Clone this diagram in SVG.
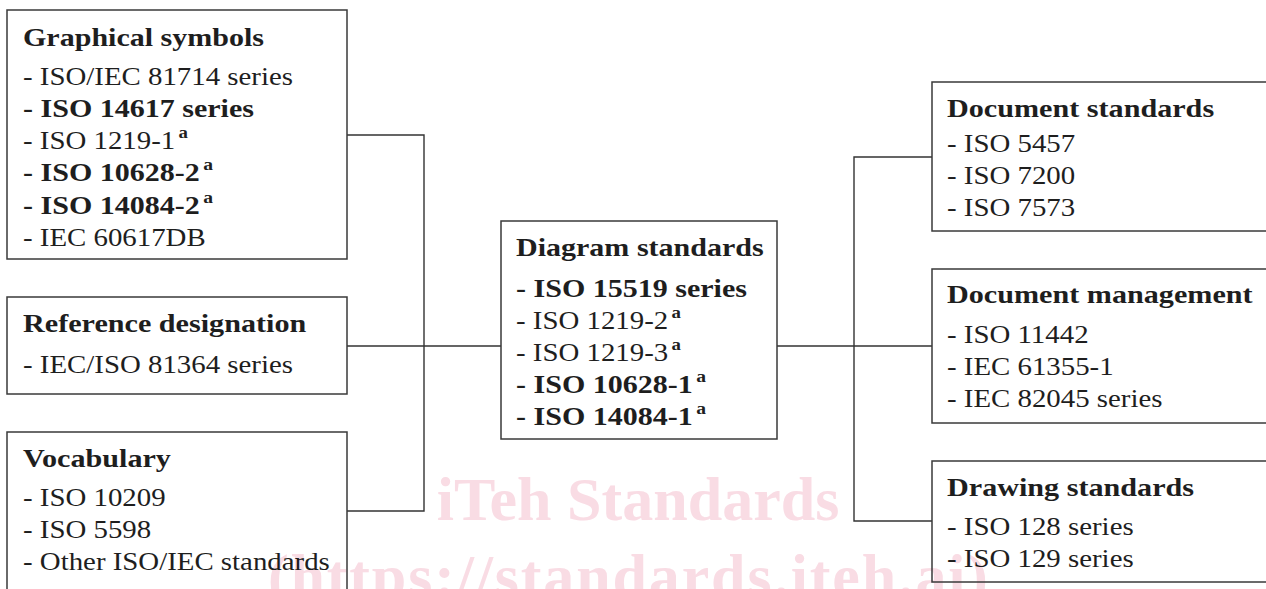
<svg xmlns="http://www.w3.org/2000/svg" width="1266" height="589" viewBox="0 0 1266 589">
<style>
.box{fill:none;stroke:#3a3a3a;stroke-width:1.5}
.wire{fill:none;stroke:#333;stroke-width:1.4}
text{font-family:"Liberation Serif","Times New Roman",serif;font-size:26px;fill:#1e1e1e}
.h{font-weight:bold}
.b{font-weight:bold}
.sup{font-size:17px;font-weight:bold}
.wm{font-family:"Liberation Serif",serif;font-weight:bold;font-size:62px;fill:#f9dce4}
</style>
<rect width="1266" height="589" fill="#fff"/>
<g id="watermark">
<text class="wm" x="638" y="520" text-anchor="middle">iTeh Standards</text>
<text class="wm" x="628" y="597" text-anchor="middle" textLength="720">(https://standards.iteh.ai)</text>
</g>
<g id="connectors">
<path class="wire" d="M347,135H424V511H347M347,346H501"/>
<path class="wire" d="M777,346H932M932,157H854V521H932"/>
</g>
<g id="graphical-symbols">
<rect class="box" x="7" y="10" width="340" height="249"/>
<text class="h" transform="translate(23,46) scale(1.155,1)">Graphical symbols</text>
<text transform="translate(23,85) scale(1.11,1)">- ISO/IEC 81714 series</text>
<text class="b" transform="translate(23,117) scale(1.155,1)">- ISO 14617 series</text>
<text transform="translate(23,149) scale(1.11,1)">- ISO 1219-1<tspan class="sup" dx="3" dy="-11">a</tspan></text>
<text class="b" transform="translate(23,181) scale(1.155,1)">- ISO 10628-2<tspan class="sup" dx="3" dy="-11">a</tspan></text>
<text class="b" transform="translate(23,214) scale(1.155,1)">- ISO 14084-2<tspan class="sup" dx="3" dy="-11">a</tspan></text>
<text transform="translate(23,246) scale(1.11,1)">- IEC 60617DB</text>
</g>
<g id="reference-designation">
<rect class="box" x="7" y="297" width="340" height="97"/>
<text class="h" transform="translate(23,332) scale(1.16,1)">Reference designation</text>
<text transform="translate(23,373) scale(1.11,1)">- IEC/ISO 81364 series</text>
</g>
<g id="vocabulary">
<rect class="box" x="7" y="432" width="340" height="170"/>
<text class="h" transform="translate(23,467) scale(1.16,1)">Vocabulary</text>
<text transform="translate(23,506) scale(1.11,1)">- ISO 10209</text>
<text transform="translate(23,538) scale(1.11,1)">- ISO 5598</text>
<text transform="translate(23,570) scale(1.11,1)">- Other ISO/IEC standards</text>
</g>
<g id="diagram-standards">
<rect class="box" x="501" y="221" width="276" height="218"/>
<text class="h" transform="translate(516,256) scale(1.155,1)">Diagram standards</text>
<text class="b" transform="translate(516,297) scale(1.155,1)">- ISO 15519 series</text>
<text transform="translate(516,329) scale(1.11,1)">- ISO 1219-2<tspan class="sup" dx="3" dy="-11">a</tspan></text>
<text transform="translate(516,361) scale(1.11,1)">- ISO 1219-3<tspan class="sup" dx="3" dy="-11">a</tspan></text>
<text class="b" transform="translate(516,393) scale(1.155,1)">- ISO 10628-1<tspan class="sup" dx="3" dy="-11">a</tspan></text>
<text class="b" transform="translate(516,425) scale(1.155,1)">- ISO 14084-1<tspan class="sup" dx="3" dy="-11">a</tspan></text>
</g>
<g id="document-standards">
<rect class="box" x="932" y="82" width="345" height="149"/>
<text class="h" transform="translate(947,117) scale(1.16,1)">Document standards</text>
<text transform="translate(947,152) scale(1.11,1)">- ISO 5457</text>
<text transform="translate(947,184) scale(1.11,1)">- ISO 7200</text>
<text transform="translate(947,216) scale(1.11,1)">- ISO 7573</text>
</g>
<g id="document-management">
<rect class="box" x="932" y="269" width="345" height="154"/>
<text class="h" transform="translate(947,303) scale(1.16,1)">Document management</text>
<text transform="translate(947,343) scale(1.11,1)">- ISO 11442</text>
<text transform="translate(947,375) scale(1.11,1)">- IEC 61355-1</text>
<text transform="translate(947,407) scale(1.11,1)">- IEC 82045 series</text>
</g>
<g id="drawing-standards">
<rect class="box" x="932" y="461" width="345" height="121"/>
<text class="h" transform="translate(947,496) scale(1.16,1)">Drawing standards</text>
<text transform="translate(947,535) scale(1.11,1)">- ISO 128 series</text>
<text transform="translate(947,567) scale(1.11,1)">- ISO 129 series</text>
</g>
</svg>
